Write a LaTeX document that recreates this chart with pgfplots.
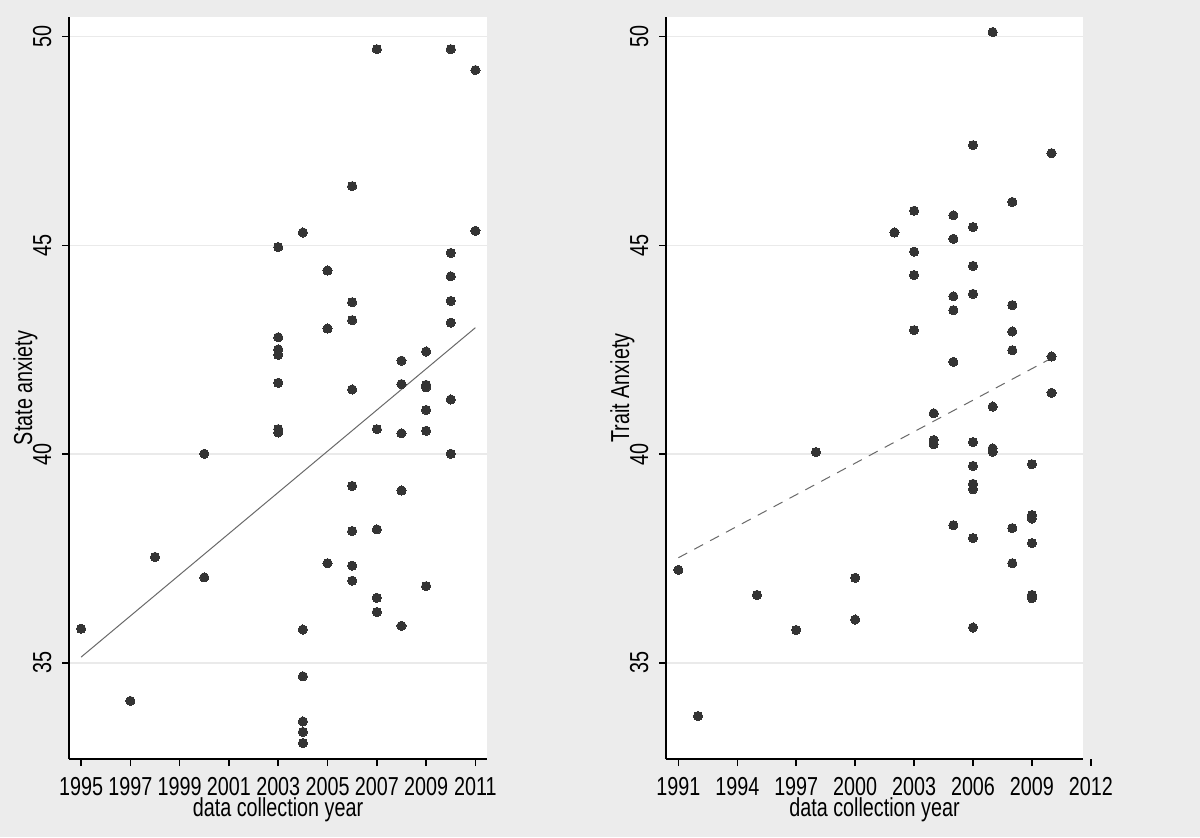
\documentclass[border=0pt]{standalone}
\usepackage{fontspec}
\setmainfont{Liberation Sans}[FakeStretch=0.76]
\usepackage{pgfplots}
\pgfplotsset{compat=1.18}
\definecolor{bgc}{RGB}{236,236,236}
\definecolor{gridc}{RGB}{234,234,234}
\definecolor{markc}{RGB}{52,52,52}
\definecolor{fitc}{RGB}{105,105,105}
\newcommand{\fsz}{\fontsize{13}{15}\selectfont}

\pgfplotsset{
  statapanel/.style={
    scale only axis, width=209pt, height=371pt,
    axis x line*=bottom, axis y line*=left,
    axis line style={line width=0.8pt, -},
    axis background/.style={fill=white},
    ymin=32.7, ymax=50.47, ytick={35,40,45,50},
    ymajorgrids, grid style={gridc, line width=0.8pt},
    tick align=outside, major tick length=3.5pt,
    tick style={black, line width=0.8pt},
    tick label style={font=\fsz},
    /pgf/number format/assume math mode=true,
    /pgf/number format/1000 sep={},
    xticklabel style={anchor=base, inner sep=0pt, yshift=-14.5pt},
    yticklabel style={rotate=90, anchor=base, inner sep=0pt, yshift=5.5pt},
    every axis x label/.style={at={(axis description cs:0.5,0)}, anchor=base, inner sep=0pt, yshift=-28.5pt, font=\fsz},
    every axis y label/.style={at={(axis description cs:-0.0885,0.5)}, rotate=90, anchor=base, inner sep=0pt, font=\fsz},
    clip=false,
  },
  dots/.style={only marks, mark=*, mark size=2.3pt,
    mark options={fill=markc, draw=markc, line width=0pt}},
}

\begin{document}
\begin{tikzpicture}
\path[use as bounding box, fill=bgc] (0,0) rectangle (600pt,418.5pt);

% left panel: state anxiety
\begin{axis}[statapanel, at={(34.5pt,39pt)}, anchor=south west,
    xmin=1994.51, xmax=2011.47,
    xtick={1995,1997,...,2011},
    xlabel={data collection year}, ylabel={State anxiety}]
\addplot[dots] coordinates {
  (1995,35.82) (1997,34.09) (1998,37.54) (2000,40.01) (2000,37.05)
  (2003,44.96) (2003,42.80) (2003,42.51) (2003,42.38) (2003,41.71) (2003,40.60) (2003,40.52)
  (2004,45.31) (2004,35.80) (2004,34.68) (2004,33.60) (2004,33.35) (2004,33.08)
  (2005,44.40) (2005,43.01) (2005,37.39)
  (2006,46.42) (2006,43.64) (2006,43.21) (2006,41.55) (2006,39.24) (2006,38.16) (2006,37.33) (2006,36.97)
  (2007,49.70) (2007,40.60) (2007,38.20) (2007,36.56) (2007,36.22)
  (2008,42.24) (2008,41.68) (2008,40.50) (2008,39.13) (2008,35.89)
  (2009,42.46) (2009,41.66) (2009,41.60) (2009,41.06) (2009,40.56) (2009,36.84)
  (2010,49.70) (2010,44.82) (2010,44.26) (2010,43.67) (2010,43.15) (2010,41.31) (2010,40.01)
  (2011,49.20) (2011,45.35)
};
% linear fit
\addplot[fitc, line width=0.5pt] coordinates {(1995,35.14) (2011,43.03)};
\end{axis}

% right panel: trait anxiety
\begin{axis}[statapanel, at={(333pt,39pt)}, anchor=south west, width=208.5pt,
    xmin=1990.37, xmax=2011.6,
    xtick={1991,1994,...,2009},
    xlabel={data collection year}, ylabel={Trait Anxiety}]
\addplot[dots] coordinates {
  (1991,37.23) (1992,33.73) (1995,36.63) (1997,35.79) (1998,40.05) (2000,37.04) (2000,36.04)
  (2002,45.31) (2003,45.83) (2003,44.85) (2003,44.29) (2003,42.97)
  (2004,40.98) (2004,40.34) (2004,40.24)
  (2005,45.72) (2005,45.16) (2005,43.78) (2005,43.45) (2005,42.21) (2005,38.30)
  (2006,47.40) (2006,45.44) (2006,44.51) (2006,43.84) (2006,40.29) (2006,39.72) (2006,39.29) (2006,39.16) (2006,37.99) (2006,35.85)
  (2007,50.11) (2007,41.14) (2007,40.14) (2007,40.06)
  (2008,46.04) (2008,43.57) (2008,42.94) (2008,42.49) (2008,38.23) (2008,37.39)
  (2009,39.76) (2009,38.54) (2009,38.46) (2009,37.87) (2009,36.63) (2009,36.55)
  (2010,47.21) (2010,42.34) (2010,41.47)
};
% linear fit
\addplot[fitc, line width=0.5pt, dash pattern=on 5pt off 4pt] coordinates {(1991,37.52) (2010,42.30)};
\end{axis}

% the 2012 tick sits beyond the right plot region (333pt + 21.63*9.821pt)
\draw[black, line width=0.8pt] (545.4pt,39pt) -- (545.4pt,35.5pt);
\node[font=\fsz, anchor=base, inner sep=0pt] at (545.4pt,21pt) {2012};
\end{tikzpicture}
\end{document}
